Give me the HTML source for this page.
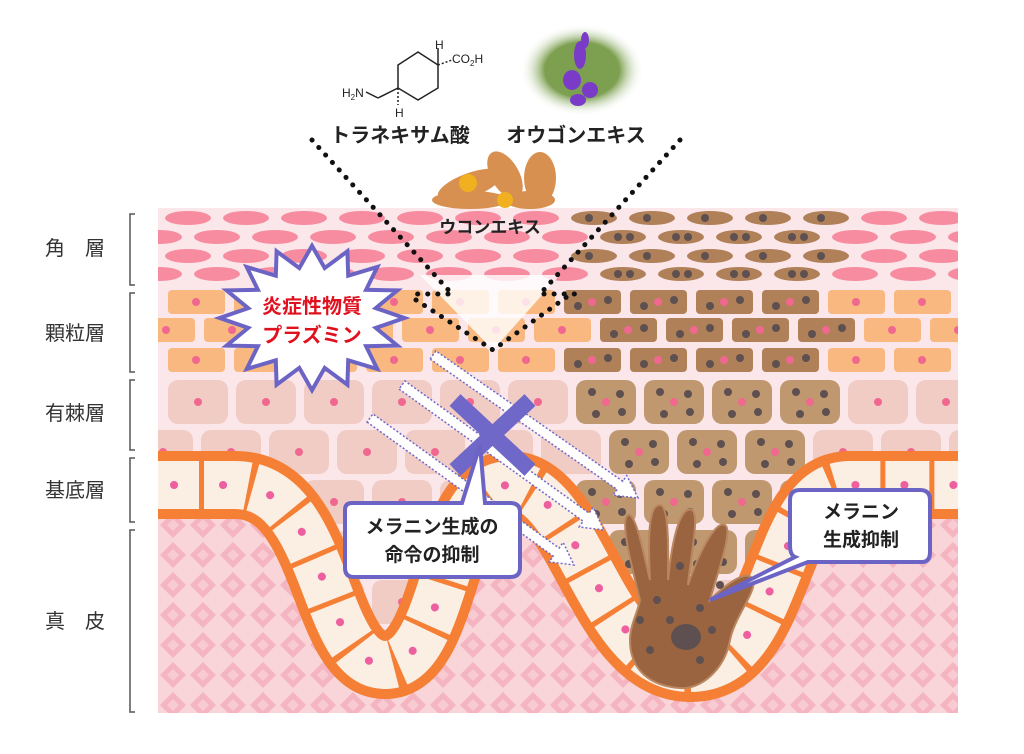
<!DOCTYPE html>
<html><head><meta charset="utf-8">
<style>
html,body{margin:0;padding:0;background:#fff;width:1024px;height:754px;overflow:hidden}
svg{display:block}
text{font-family:"Liberation Sans","Noto Sans CJK JP",sans-serif}
</style></head>
<body>
<svg id="s" width="1024" height="754" viewBox="0 0 1024 754" xmlns="http://www.w3.org/2000/svg">
<defs>
<pattern id="dia" width="30" height="30" patternUnits="userSpaceOnUse" x="158" y="0">
<rect width="30" height="30" fill="#f9d4d8"/>
<polygon points="15,2 28,15 15,28 2,15" fill="#f4b4c0"/>
<polygon points="15,9 21,15 15,21 9,15" fill="#f8cad2"/>
</pattern>
<clipPath id="area"><rect x="158" y="208" width="800" height="505"/></clipPath>
<clipPath id="above"><path d="M150,200 L965,200 L965,485 L850,485 C770,485 785,668 690,668 C600,668 580,485 510,485 C440,485 450,665 385,665 C320,665 330,485 235,485 L150,485 Z"/></clipPath>
<radialGradient id="herb" cx="50%" cy="50%" r="50%"><stop offset="0.6" stop-color="#7da050"/><stop offset="1" stop-color="#fff" stop-opacity="0"/></radialGradient>
</defs>
<g clip-path="url(#area)">
<rect x="158" y="208" width="800" height="505" fill="#fbe6ea"/>
<g id="skin"></g>
<path d="M150,485 L235,485 C330,485 320,665 385,665 C450,665 440,485 510,485 C580,485 600,668 690,668 C785,668 770,485 850,485 L965,485 L965,720 L150,720 Z" fill="url(#dia)"/>
<g id="wv"></g>
<polygon points="420,275 560,275 493,350" fill="#fff" opacity="0.8"/>
</g>
<!-- melanocyte -->
<g fill="#9a6440" stroke="#b98660" stroke-width="2">
<path d="M640,600 C630,560 620,520 628,515 C636,512 645,560 650,580 C648,540 648,505 660,505 C670,505 668,560 668,580 C672,540 680,505 692,510 C700,515 690,560 688,585 C698,555 715,520 725,525 C734,530 715,580 710,600 C725,585 745,570 752,578 C760,588 735,615 730,640 C725,670 700,690 680,688 C650,686 630,670 630,640 C630,625 638,612 640,600 Z"/>
</g>
<ellipse cx="686" cy="637" rx="15" ry="13" fill="#5e5050"/>
<g fill="#5e5050"><circle cx="657" cy="600" r="4"/><circle cx="670" cy="620" r="4"/><circle cx="700" cy="608" r="4"/><circle cx="712" cy="630" r="4"/><circle cx="650" cy="650" r="4"/><circle cx="700" cy="660" r="4"/><circle cx="720" cy="585" r="4"/><circle cx="640" cy="620" r="4"/><circle cx="680" cy="566" r="4"/></g>
<g id="arrows"></g>
<g stroke="#7068c8" stroke-width="16"><line x1="455" y1="400" x2="530" y2="470"/><line x1="530" y1="400" x2="455" y2="470"/></g>
<g fill="none" stroke="#111" stroke-width="5" stroke-linecap="round" stroke-dasharray="0.1 10">
<polyline points="312,140 452,294 412,294"/>
<polyline points="416,300 493,350 568,296"/>
<polyline points="680,140 540,294 580,294"/>
</g>
<polygon id="star" fill="#fff" stroke="#6c64c4" stroke-width="4"/>
<text x="312" y="313" font-size="20" font-weight="bold" fill="#e0101e" text-anchor="middle">炎症性物質</text>
<text x="312" y="342" font-size="20" font-weight="bold" fill="#e0101e" text-anchor="middle">プラズミン</text>
<path d="M345,510 Q345,503 352,503 L462,503 L480,445 L485,503 L510,503 Q520,503 520,512 L520,568 Q520,577 510,577 L354,577 Q345,577 345,568 Z" fill="#fff" stroke="#6c64c4" stroke-width="4"/>
<text x="432" y="533" font-size="19" font-weight="bold" fill="#222" text-anchor="middle">メラニン生成の</text>
<text x="432" y="561" font-size="19" font-weight="bold" fill="#222" text-anchor="middle">命令の抑制</text>
<path d="M800,490 Q790,490 790,500 L790,545 Q790,555 795,557 L710,600 L808,562 L922,562 Q930,562 930,552 L930,500 Q930,490 920,490 Z" fill="#fff" stroke="#6c64c4" stroke-width="4"/>
<text x="861" y="518" font-size="19" font-weight="bold" fill="#222" text-anchor="middle">メラニン</text>
<text x="861" y="546" font-size="19" font-weight="bold" fill="#222" text-anchor="middle">生成抑制</text>
<g stroke="#222" stroke-width="1.5" fill="none">
<polygon points="398,88 398,65 418,52 438,65 438,88 418,100"/>
<line x1="398" y1="88" x2="378" y2="98"/><line x1="378" y1="98" x2="366" y2="92"/>
<line x1="438" y1="65" x2="438" y2="48"/><line x1="438" y1="65" x2="452" y2="60" stroke-dasharray="2 2"/>
<line x1="398" y1="88" x2="398" y2="105" stroke-dasharray="2 2"/>
</g>
<g font-family="Liberation Serif,serif" font-size="12" fill="#222">
<text x="435" y="49">H</text><text x="452" y="63">CO<tspan font-size="8" dy="3">2</tspan><tspan dy="-3">H</tspan></text>
<text x="342" y="97">H<tspan font-size="8" dy="3">2</tspan><tspan dy="-3">N</tspan></text><text x="395" y="117">H</text>
</g>
<ellipse cx="582" cy="70" rx="62" ry="46" fill="url(#herb)"/>
<g fill="#7a3cc8"><ellipse cx="580" cy="55" rx="6" ry="14"/><ellipse cx="572" cy="80" rx="9" ry="10"/><ellipse cx="590" cy="90" rx="8" ry="8"/><ellipse cx="578" cy="100" rx="8" ry="6"/><ellipse cx="585" cy="40" rx="4" ry="8"/></g>
<text x="400" y="142" font-size="20" font-weight="bold" fill="#222" text-anchor="middle">トラネキサム酸</text>
<text x="576" y="142" font-size="20" font-weight="bold" fill="#222" text-anchor="middle">オウゴンエキス</text>
<g fill="#d89050"><ellipse cx="470" cy="185" rx="34" ry="12" transform="rotate(-20 470 185)"/><ellipse cx="505" cy="175" rx="14" ry="26" transform="rotate(-30 505 175)"/><ellipse cx="540" cy="178" rx="16" ry="26"/><ellipse cx="470" cy="200" rx="38" ry="9"/><ellipse cx="530" cy="200" rx="25" ry="9"/></g>
<circle cx="468" cy="183" r="9" fill="#f0b020"/><circle cx="505" cy="200" r="8" fill="#f0b020"/>
<text x="490" y="233" font-size="17" font-weight="bold" fill="#222" text-anchor="middle">ウコンエキス</text>
<g font-size="20" fill="#333" text-anchor="middle">
<text x="75" y="255">角　層</text><text x="75" y="340">顆粒層</text><text x="75" y="420">有棘層</text><text x="75" y="497">基底層</text><text x="75" y="628">真　皮</text>
</g>
<g stroke="#555" stroke-width="1.5" fill="none">
<polyline points="135,214 130,214 130,285 135,285"/>
<polyline points="135,293 130,293 130,372 135,372"/>
<polyline points="135,380 130,380 130,450 135,450"/>
<polyline points="135,458 130,458 130,522 135,522"/>
<polyline points="135,530 130,530 130,712 135,712"/>
</g>
</svg>
<script>
const NS="http://www.w3.org/2000/svg";
function el(t,a,p){const e=document.createElementNS(NS,t);for(const k in a)e.setAttribute(k,a[k]);p.appendChild(e);return e;}
const skin=document.getElementById('skin');
const g=el('g',{'clip-path':'url(#above)'},skin);
function brown(x){return x>560&&x<850;}
const rows=[218,237,256,274];
rows.forEach((y,i)=>{const off=i%2?-29:0;for(let x=158+off;x<970;x+=58){const cx=x+30;const b=cx>575&&cx<850;el('ellipse',{cx:cx,cy:y,rx:23,ry:7,fill:b?'#b08058':'#f78ca0'},g);if(b){el('circle',{cx:cx-5,cy:y,r:4,fill:'#5e5050'},g);if(i%2)el('circle',{cx:cx+7,cy:y,r:4,fill:'#5e5050'},g);}}});
[[290,0],[318,-30],[348,0]].forEach(([y,off])=>{for(let x=168+off;x<970;x+=66){const b=x>555&&x<800;el('rect',{x:x,y:y,width:57,height:24,rx:4,fill:b?'#b08058':'#f8b880'},g);el('circle',{cx:x+28,cy:y+12,r:4,fill:'#f06890'},g);if(b){el('circle',{cx:x+14,cy:y+16,r:4,fill:'#5e5050'},g);el('circle',{cx:x+44,cy:y+10,r:4,fill:'#5e5050'},g);}}});
[[380,0],[430,-35],[480,0],[530,-35],[580,0],[630,-35]].forEach(([y,off])=>{for(let x=168+off;x<970;x+=68){const b=x>555&&x<800&&y<560;el('rect',{x:x,y:y,width:60,height:44,rx:10,fill:b?'#c09870':'#f0ccc4'},g);el('circle',{cx:x+30,cy:y+22,r:4,fill:'#f06890'},g);if(b){[[16,12],[44,14],[20,34],[46,32]].forEach(([a,c])=>el('circle',{cx:x+a,cy:y+c,r:4,fill:'#5e5050'},g));}}});
const D="M150,485 L235,485 C330,485 320,665 385,665 C450,665 440,485 510,485 C580,485 600,668 690,668 C785,668 770,485 850,485 L965,485";
const wv=document.getElementById('wv');
el('path',{d:D,fill:'none',stroke:'#f47f35','stroke-width':68},wv);
el('path',{d:D,fill:'none',stroke:'#fbeee2','stroke-width':48},wv);
el('path',{d:D,fill:'none',stroke:'#f47f35','stroke-width':50,'stroke-dasharray':'5 44'},wv);
el('path',{d:D,fill:'none',stroke:'#ee5fa0','stroke-width':8,'stroke-linecap':'round','stroke-dasharray':'0.1 48.9','stroke-dashoffset':'-24'},wv);
const pts=[];const n=16;for(let i=0;i<2*n;i++){const r=i%2?62:88;const a=Math.PI*i/n;pts.push((312+r*1.05*Math.cos(a)).toFixed(1)+','+(318+r*0.82*Math.sin(a)).toFixed(1));}
document.getElementById('star').setAttribute('points',pts.join(' '));
const ar=document.getElementById('arrows');
[[433,355,638,498],[402,385,604,530],[370,418,574,565]].forEach(([x1,y1,x2,y2])=>{const dx=x2-x1,dy=y2-y1,L=Math.hypot(dx,dy),ux=dx/L,uy=dy/L,px=-uy,py=ux;const w=5,h=12,hl=22;const bx=x2-ux*hl,by=y2-uy*hl;const P=[[x1+px*w,y1+py*w],[bx+px*w,by+py*w],[bx+px*h,by+py*h],[x2,y2],[bx-px*h,by-py*h],[bx-px*w,by-py*w],[x1-px*w,y1-py*w]];el('polygon',{points:P.map(p=>p.join(',')).join(' '),fill:'#fff',stroke:'#7068c8','stroke-width':1.5,'stroke-dasharray':'2 2'},ar);});
</script>
</body></html>
